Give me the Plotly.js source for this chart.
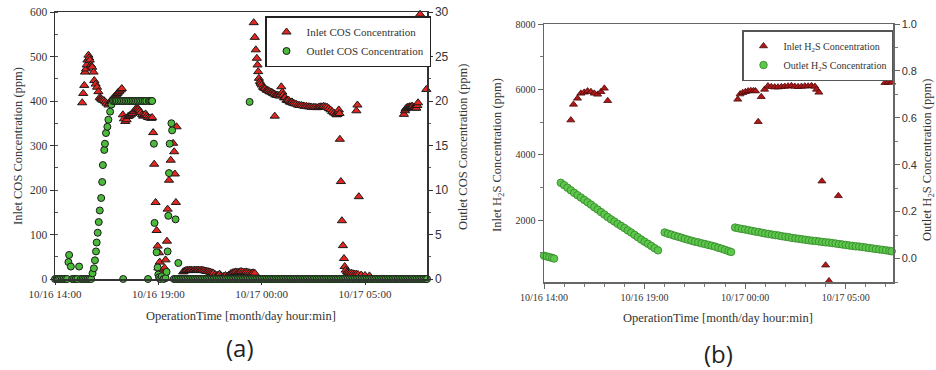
<!DOCTYPE html>
<html>
<head>
<meta charset="utf-8">
<script src="https://cdn.plot.ly/plotly-3.0.1.min.js"></script>
<style>html,body{margin:0;padding:0;background:#fff}#chart{width:936px;height:370px}</style>
</head>
<body>
<div id="chart"></div>
<script>
// ---- Panel (a): COS, minutes after 10/16 14:00 ----
const cosInletMin = [79,82,85,87,90,92,94,97,99,101,104,106,108,112,114,118,122,126,130,133,135,138,142,146,150,155,158,160,163,166,170,174,178,181,184,187,191,194,
197,200,204,208,212,216,220,225,229,233,236,240,243,246,249,253,256,260,263,267,270,275,280,282,
285,288,292,295,298,300,302,304,306,309,312,315,318,321,325,327,331,336,343,346,348,351,353,
372,376,380,384,388,392,396,400,404,408,412,416,420,424,428,432,436,440,444,448,452,456,460,465,470,474,478,482,486,490,495,500,505,510,515,520,525,530,535,540,545,550,555,560,565,570,575,580,
577,580,583,586,588,590,592,595,597,600,604,607,610,614,617,620,623,627,630,633,636,638,640,643,646,650,653,655,657,660,662,665,668,672,675,678,681,685,688,691,695,700,705,710,715,720,725,730,735,740,745,750,755,760,765,770,775,780,785,790,795,800,805,810,815,818,820,822,824,826,
827,830,833,836,839,841,844,848,851,855,860,865,870,875,880,889,900,913,875,878,882,
1013,1016,1018,1020,1022,1024,1027,1029,1031,1034,1036,1038,1041,1043,1045,1047,1049,1052,1054,1060,1070,1072,1074,1078];
const cosInletPpm = [396,417,435,465,472,481,492,503,497,492,481,478,476,465,446,438,431,421,408,406,404,402,401,398,395,391,395,399,401,404,407,411,414,417,420,422,425,428,
369,360,354,358,365,367,369,372,376,380,384,383,381,378,374,369,366,368,371,367,363,362,361,363,
329,258,172,109,74,25,59,38,15,8,18,12,25,43,85,157,222,267,305,286,236,172,342,
16,18,19,20,19,20,20,19,20,19,20,20,19,20,19,19,18,17,17,16,15,14,13,10,8,9,11,7,5,6,8,6,9,12,14,15,16,15,16,17,16,15,16,15,14,13,14,13,
576,543,515,496,481,466,451,444,440,436,431,429,428,425,424,423,421,420,419,417,416,366,414,413,413,412,411,415,432,420,413,407,408,402,401,402,398,397,398,395,394,393,391,390,390,389,388,388,387,387,386,386,386,385,386,387,387,388,387,386,383,380,376,373,371,369,370,376,380,372,
314,219,131,75,46,28,20,16,14,13,13,12,11,11,10,9,8,7,378,391,185,
370,378,382,384,385,386,385,387,387,386,388,388,385,386,386,384,384,390,396,595,578,533,496,426];

const cosOutletMin = [0,5,10,15,20,25,30,35,39,41,46,50,55,60,65,70,75,80,85,90,95,100,105,
109,113,116,119,121,124,127,130,134,137,139,143,145,148,152,155,160,164,
168,172,176,180,185,190,195,198,200,205,210,215,220,225,230,235,240,245,250,255,260,265,270,272,276,280,282,
287,289,295,298,300,302,305,310,315,321,324,327,329,331,333,338,340,350,358,565,
345,350,355,360,365,370,375,380,385,390,395,400,405,410,415,420,425,430,435,440,445,450,455,460,465,470,475,480,485,490,495,500,505,510,515,520,525,530,535,540,545,550,555,560,565,570,575,580,585,590,595,600,605,610,615,620,625,630,635,640,645,650,655,660,665,670,675,680,685,690,695,700,705,710,715,720,725,730,735,740,745,750,755,760,765,770,775,780,785,790,795,800,805,810,815,820,825,830,835,840,845,850,855,860,865,870,875,880,885,890,895,900,905,910,915,920,925,930,935,940,945,950,955,960,965,970,975,980,985,990,995,1000,1005,1010,1015,1020,1025,1030,1035,1040,1045,1050,1055,1060,1065,1070,1075,1080];
const cosOutletPpm = [0,0,0,0,0,0,0,0,1.9,2.7,1.4,0,0,0,0,1.4,0,0,0,0,0,0,0,
0.64,1.2,2.1,3.1,4.1,5.2,6.4,7.7,9.1,10.9,12.8,14.5,15.2,16.4,17.1,17.9,18.8,19.6,
20,20,20,20,20,20,20,0,20,20,20,20,20,20,20,20,20,20,20,20,20,20,0,20,20,20,20,
15.2,6.3,3.0,1.3,0.5,0.2,0,0.3,0,0.1,0.8,3.1,7.1,11.9,15.2,17.5,16.7,6.7,1.8,19.9,
0,0,0,0,0,0,0,0,0,0,0,0,0,0,0,0,0,0,0,0,0,0,0,0,0,0,0,0,0,0,0,0,0,0,0,0,0,0,0,0,0,0,0,0,0,0,0,0,0,0,0,0,0,0,0,0,0,0,0,0,0,0,0,0,0,0,0,0,0,0,0,0,0,0,0,0,0,0,0,0,0,0,0,0,0,0,0,0,0,0,0,0,0,0,0,0,0,0,0,0,0,0,0,0,0,0,0,0,0,0,0,0,0,0,0,0,0,0,0,0,0,0,0,0,0,0,0,0,0,0,0,0,0,0,0,0,0,0,0,0,0,0,0,0,0,0,0,0];

// ---- Panel (b): H2S ----
const h2sInletMin = [80,88,100,110,120,130,140,150,160,170,180,190,
578,585,593,601,609,617,625,631,639,648,658,668,678,688,698,708,718,728,738,748,758,768,778,788,798,808,813,820,829,840,850,878,1017,1027,1037];
const h2sInletPpm = [5061,5542,5726,5879,5909,5949,5928,5879,5848,5928,6032,5652,
5695,5857,5898,5928,5949,5959,5959,5949,5010,5775,6000,6102,6080,6070,6070,6080,6090,6100,6110,6090,6080,6090,6100,6100,6110,6090,6000,5909,3194,624,143,2745,6203,6215,6215];

const h2sOutletMin = [0,8,16,24,30,
50,60,70,80,90,100,110,120,130,140,150,160,170,180,190,200,210,220,230,240,250,260,270,280,290,300,310,320,330,340,
360,370,380,390,400,410,420,430,440,450,460,470,480,490,500,510,520,530,540,550,558,
570,580,590,600,610,620,630,640,650,660,670,680,690,700,710,720,730,740,750,760,770,780,790,800,810,820,830,840,850,860,870,880,890,900,910,920,930,940,950,960,970,980,990,1000,1010,1020,1030,1037];
const h2sOutletPpm = [0.012,0.009,0.006,0.003,0.0,
0.323,0.313,0.302,0.291,0.280,0.270,0.260,0.250,0.240,0.230,0.219,0.209,0.198,0.188,0.177,0.167,0.158,0.148,0.139,0.130,0.120,0.111,0.101,0.091,0.081,0.072,0.063,0.054,0.044,0.035,
0.111,0.106,0.102,0.097,0.093,0.089,0.084,0.080,0.076,0.072,0.069,0.065,0.062,0.058,0.055,0.051,0.046,0.042,0.037,0.032,0.028,
0.132,0.129,0.126,0.124,0.121,0.118,0.115,0.113,0.110,0.107,0.105,0.102,0.100,0.098,0.095,0.093,0.091,0.088,0.086,0.084,0.082,0.080,0.078,0.076,0.075,0.073,0.071,0.069,0.068,0.066,0.064,0.062,0.060,0.058,0.056,0.054,0.052,0.051,0.049,0.047,0.045,0.043,0.041,0.039,0.037,0.035,0.033,0.031];

const xTitle = 'OperationTime [month/day hour:min]';

function d(m){
  const t = new Date(Date.UTC(2020,9,16,14,0,0) + m*60000);
  const p = n => String(n).padStart(2,'0');
  return t.getUTCFullYear()+'-'+p(t.getUTCMonth()+1)+'-'+p(t.getUTCDate())+' '+p(t.getUTCHours())+':'+p(t.getUTCMinutes());
}
const W=936, H=370;
const fx = px => px/W, fy = py => 1-py/H;
const SERIF = 'Liberation Serif';
const SANS = 'Liberation Sans';
const TXT = '#333';

const traces = [
  {x: cosInletMin.map(d), y: cosInletPpm, xaxis:'x', yaxis:'y', type:'scatter', mode:'markers', name:'Inlet COS Concentration', legend:'legend', cliponaxis:false,
   marker:{symbol:'triangle-up', size:8, color:'#e3261f', line:{color:'#1a1a1a', width:1}}},
  {x: cosOutletMin.map(d), y: cosOutletPpm, xaxis:'x', yaxis:'y2', type:'scatter', mode:'markers', name:'Outlet COS Concentration', legend:'legend', cliponaxis:false,
   marker:{symbol:'circle', size:7, color:'#4cbb3c', line:{color:'#1a1a1a', width:1}}},
  {x: h2sInletMin.map(d), y: h2sInletPpm, xaxis:'x2', yaxis:'y3', type:'scatter', mode:'markers', name:'Inlet H<sub>2</sub>S Concentration', legend:'legend2', cliponaxis:false,
   marker:{symbol:'triangle-up', size:7, color:'#b01818', line:{color:'#4a0a0a', width:0.8}}},
  {x: h2sOutletMin.map(d), y: h2sOutletPpm, xaxis:'x2', yaxis:'y4', type:'scatter', mode:'markers', name:'Outlet H<sub>2</sub>S Concentration', legend:'legend2', cliponaxis:false,
   marker:{symbol:'circle', size:7.5, color:'#5cc84a', line:{color:'#3a8a30', width:0.9}}}
];

const axBase = {showgrid:false, zeroline:false, showline:true, ticks:'outside'};
const layout = {
  width:W, height:H, margin:{l:0,r:0,t:0,b:0}, paper_bgcolor:'#fff', plot_bgcolor:'#fff',
  showlegend:true,
  xaxis: Object.assign({}, axBase, {domain:[fx(55),fx(427)], anchor:'y', type:'date', range:[d(0),d(1080)],
    tick0:d(0), dtick:5*3600000, tickformat:'%m/%d %H:%M', ticklen:4, linecolor:'#333', linewidth:1.5, mirror:true,
    tickcolor:'#333', tickfont:{family:SERIF, size:11, color:TXT}}),
  yaxis: Object.assign({}, axBase, {domain:[fy(279),fy(12)], anchor:'x', range:[0,600], dtick:100, ticklen:4,
    linecolor:'#333', linewidth:1.5, tickcolor:'#333', tickfont:{family:SERIF, size:11.5, color:TXT},
    minor:{dtick:50, ticks:'inside', ticklen:3, tickcolor:'#555'}}),
  yaxis2: Object.assign({}, axBase, {overlaying:'y', side:'right', anchor:'x', range:[0,30], dtick:5, ticklen:4,
    linecolor:'#333', linewidth:1.5, tickcolor:'#333', tickfont:{family:SANS, size:12, color:TXT},
    minor:{dtick:2.5, ticks:'outside', ticklen:2, tickcolor:'#555'}}),
  xaxis2: Object.assign({}, axBase, {domain:[fx(544),fx(893)], anchor:'y3', type:'date', range:[d(0),d(1041)],
    tick0:d(0), dtick:5*3600000, tickformat:'%m/%d %H:%M', ticklen:5, linecolor:'#666', linewidth:1.5, mirror:true,
    tickcolor:'#666', tickfont:{family:SERIF, size:10, color:TXT},
    minor:{dtick:3600000, ticks:'outside', ticklen:3, tickcolor:'#777'}}),
  yaxis3: Object.assign({}, axBase, {domain:[fy(282),fy(24)], anchor:'x2', range:[110,8000], tick0:0, dtick:2000, ticklen:5,
    linecolor:'#666', linewidth:1.5, tickcolor:'#666', tickfont:{family:SERIF, size:10, color:TXT},
    minor:{dtick:1000, ticks:'outside', ticklen:3, tickcolor:'#777'}}),
  yaxis4: Object.assign({}, axBase, {overlaying:'y3', side:'right', anchor:'x2', range:[-0.1,1.0], tick0:0, dtick:0.2, tickformat:'.1f', ticklen:5,
    linecolor:'#666', linewidth:1.5, tickcolor:'#666', tickfont:{family:SANS, size:11, color:TXT},
    minor:{dtick:0.1, ticks:'outside', ticklen:3, tickcolor:'#777'}}),
  legend: {x:fx(265), y:fy(16), xanchor:'left', yanchor:'top', bgcolor:'#fff', bordercolor:'#222', borderwidth:1.5,
    font:{family:SERIF, size:11, color:TXT}, tracegroupgap:0, itemwidth:30},
  legend2: {x:fx(742), y:fy(30), xanchor:'left', yanchor:'top', bgcolor:'#fff', bordercolor:'#555', borderwidth:1.5,
    font:{family:SERIF, size:10, color:TXT}, tracegroupgap:0, itemwidth:30},
  annotations: [
    {text:'Inlet COS Concentration (ppm)', x:fx(18), y:fy(146), textangle:-90},
    {text:'Outlet COS Concentration (ppm)', x:fx(463), y:fy(147), textangle:-90},
    {text:xTitle, x:fx(241), y:fy(316)},
    {text:'Inlet H<sub>2</sub>S Concentration (ppm)', x:fx(498), y:fy(155), textangle:-90},
    {text:'Outlet H<sub>2</sub>S Concentration (ppm)', x:fx(928), y:fy(160), textangle:-90},
    {text:xTitle, x:fx(718), y:fy(318)}
  ].map(a => Object.assign({xref:'paper', yref:'paper', showarrow:false, xanchor:'center', yanchor:'middle',
      font:{family:SERIF, size:12.5, color:TXT}}, a)).concat([
    {text:'(a)', x:fx(240), y:fy(347), xref:'paper', yref:'paper', showarrow:false, xanchor:'center', yanchor:'middle', font:{family:'Open Sans', size:24, color:'#222'}},
    {text:'(b)', x:fx(718), y:fy(353), xref:'paper', yref:'paper', showarrow:false, xanchor:'center', yanchor:'middle', font:{family:'Open Sans', size:24, color:'#222'}}
  ])
};

Plotly.newPlot('chart', traces, layout, {displayModeBar:false, staticPlot:true});
</script>
</body>
</html>
